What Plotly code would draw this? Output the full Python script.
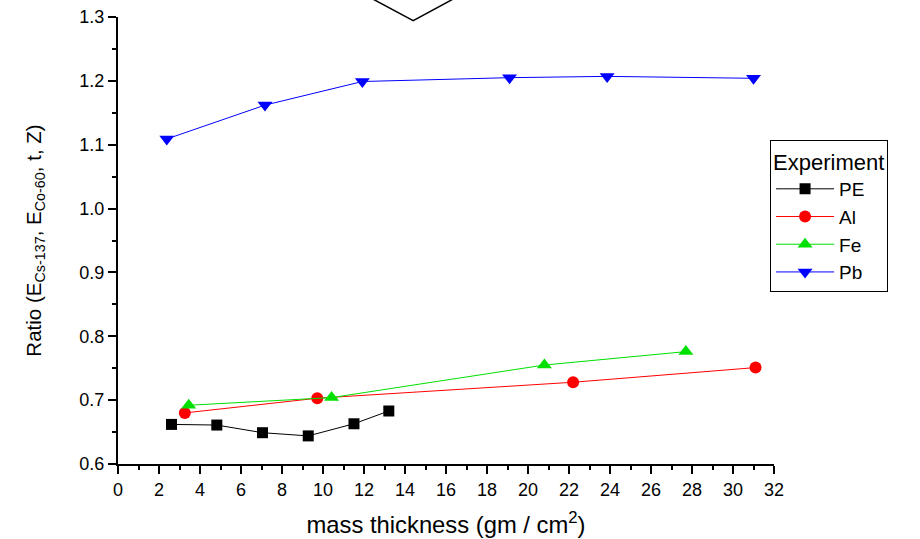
import plotly.graph_objects as go

# Data
pe_x = [2.61, 4.82, 7.05, 9.28, 11.51, 13.21]
pe_y = [0.662, 0.661, 0.649, 0.644, 0.663, 0.683]

al_x = [3.26, 9.72, 22.2, 31.1]
al_y = [0.680, 0.703, 0.728, 0.751]

fe_x = [3.45, 10.42, 20.8, 27.7]
fe_y = [0.692, 0.704, 0.755, 0.776]

pb_x = [2.38, 7.17, 11.92, 19.1, 23.86, 31.0]
pb_y = [1.109, 1.162, 1.199, 1.205, 1.207, 1.204]

FONT = "Liberation Sans, Arial, sans-serif"

fig = go.Figure()
series = [
    ("PE", pe_x, pe_y, "black", "square", 11),
    ("Al", al_x, al_y, "red", "circle", 12),
    ("Fe", fe_x, fe_y, "#00e000", "triangle-up", 13),
    ("Pb", pb_x, pb_y, "blue", "triangle-down", 13),
]
for name, xs, ys, col, sym, sz in series:
    fig.add_trace(go.Scatter(
        x=xs, y=ys, name=name, mode="lines+markers",
        line=dict(color=col, width=1),
        marker=dict(symbol=sym, size=sz, color=col, line=dict(width=0)),
    ))

axis_common = dict(
    showline=True, linecolor="black", linewidth=2, mirror=False,
    ticks="outside", ticklen=8, tickwidth=2, tickcolor="black",
    showgrid=False, zeroline=False, automargin=False,
    tickfont=dict(family=FONT, size=18, color="black"),
)

fig.update_xaxes(
    range=[0, 32], dtick=2, tick0=0,
    minor=dict(ticks="outside", ticklen=4, tickwidth=2, tickcolor="black", dtick=1, showgrid=False),
    title=dict(text="mass thickness (gm / cm<sup>2</sup>)",
               font=dict(family=FONT, size=23.8, color="black"), standoff=18),
    **axis_common,
)
fig.update_yaxes(
    range=[0.6, 1.3], dtick=0.1, tick0=0.6, tickformat=".1f",
    minor=dict(ticks="outside", ticklen=4, tickwidth=2, tickcolor="black", dtick=0.05, showgrid=False),
    title=dict(text="Ratio (E<sub>Cs-137</sub>, E<sub>Co-60</sub>, t, Z)",
               font=dict(family=FONT, size=20.5, color="black"), standoff=32),
    **axis_common,
)

# decorative V mark at the top of the reference
fig.add_shape(type="path", xref="paper", yref="paper",
              path="M 0.3887 1.04 L 0.450 0.992 L 0.5107 1.04",
              line=dict(color="black", width=1.5))

fig.update_layout(
    width=920, height=539,
    margin=dict(l=118, r=146, t=17, b=75, autoexpand=False),
    paper_bgcolor="white", plot_bgcolor="white",
    font=dict(family=FONT, color="black"),
    legend=dict(
        title=dict(text="Experiment", font=dict(family=FONT, size=22, color="black")),
        font=dict(family=FONT, size=19, color="black"),
        x=0.994, y=0.724, xanchor="left", yanchor="top",
        bordercolor="black", borderwidth=1, bgcolor="white",
        itemwidth=58, tracegroupgap=0,
    ),
)

fig.write_html("out.html",
               config={"displayModeBar": False},
               post_script="document.body.style.margin='0';document.body.style.overflow='hidden';")
